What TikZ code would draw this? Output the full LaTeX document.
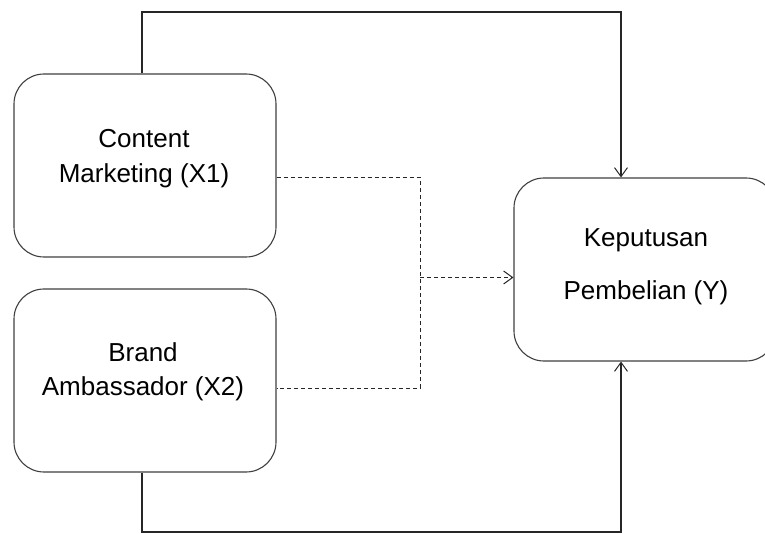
\documentclass[tikz,border=0pt]{standalone}
\usepackage{fontspec}
\setmainfont{Liberation Sans}
\usetikzlibrary{arrows.meta}
\begin{document}
\begin{tikzpicture}[x=1pt,y=-1pt,
  box/.style={draw=black!75,line width=1.1pt,rounded corners=30pt,fill=white,
    minimum width=#1,inner sep=0pt},
  lbl/.style={anchor=base,inner sep=0pt,font=\fontsize{26}{30}\selectfont},
  link/.style={draw=black!85,line width=1.1pt},
  dashlink/.style={draw=black!85,line width=1pt,dash pattern=on 4pt off 3pt},
  tip/.style={-{Straight Barb[length=9pt,width=13pt,line width=1pt]}}]
\useasboundingbox (0,0) rectangle (765,534);

% the three variable boxes
\node[box=262pt,minimum height=183pt] (x1) at (145,165.5) {};
\node[box=262pt,minimum height=183pt] (x2) at (145,380.5) {};
\node[box=262pt,minimum height=183pt] (y) at (645,269.5) {};

\node[lbl] (x1a) at (144,148) {Content};
\node[lbl] (x1b) at (144,183) {Marketing (X1)};
\node[lbl] (x2a) at (143,361) {Brand};
\node[lbl] (x2b) at (143,395) {Ambassador (X2)};
\node[lbl] (ya) at (646,247) {Keputusan};
\node[lbl] (yb) at (646,300) {Pembelian (Y)};

% direct effects
\coordinate (x1top) at ([xshift=-3pt]x1.north);
\coordinate (x2bot) at ([xshift=-3pt]x2.south);
\coordinate (ytop) at ([xshift=-24pt]y.north);
\coordinate (ybot) at ([xshift=-24pt]y.south);
\draw[link,tip] (x1top) -- (x1top |- 0,12) -| (ytop);
\draw[link,tip] (x2bot) -- (x2bot |- 0,532) -| (ybot);

% simultaneous effect
\coordinate (j) at (420,277.5);
\draw[dashlink] ([yshift=-12pt]x1.east) -| (j |- 0,388) -- ([yshift=-7.5pt]x2.east);
\draw[dashlink,tip] (j) -- (y.west |- j);
\end{tikzpicture}
\end{document}
